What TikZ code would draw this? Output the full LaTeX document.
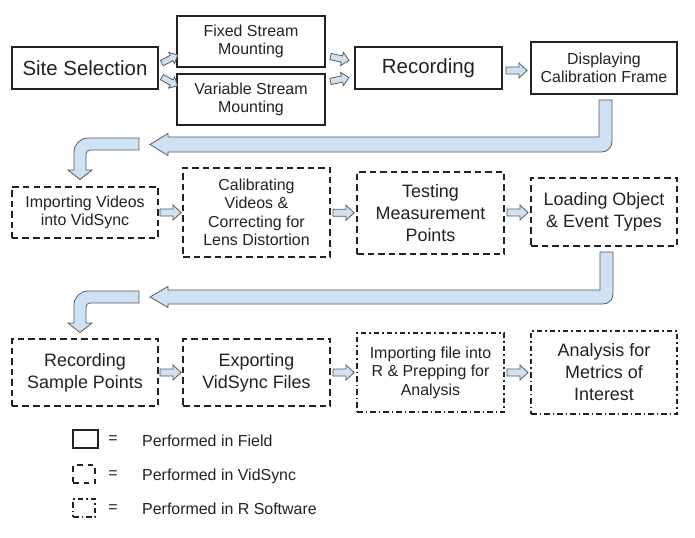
\documentclass[tikz,border=0pt]{standalone}
\usepackage{fontspec}
\setmainfont{Liberation Sans}
\usetikzlibrary{calc}
\definecolor{arrowfill}{HTML}{CFE2F3}
\definecolor{ink}{HTML}{222222}
\definecolor{arrowline}{HTML}{5A5A5A}
\tikzset{
  pics/barrow/.style={code={\draw[barw] (-10.5,-3.5) -- (2.5,-3.5) -- (2.5,-7.5) -- (10.5,0) -- (2.5,7.5) -- (2.5,3.5) -- (-10.5,3.5) -- cycle;}}
}
\begin{document}
\begin{tikzpicture}[x=1bp,y=-1bp,
  box/.style={draw=ink, line width=1.5bp, inner sep=0pt, align=center, text=ink},
  field/.style={box},
  vid/.style={box, dash pattern=on 6.5bp off 4bp},
  rsoft/.style={box, line width=1.3bp, dash pattern=on 5.5bp off 3bp on 1.5bp off 3bp},
  fbig/.style={font=\fontsize{20.5}{24}\selectfont},
  fmed/.style={font=\fontsize{18}{22}\selectfont},
  fsmall/.style={font=\fontsize{16}{18.5}\selectfont},
  flegend/.style={font=\fontsize{16}{18}\selectfont, text=ink},
  barw/.style={fill=arrowfill, draw=arrowline, line width=0.8bp, line join=miter},
]
\useasboundingbox (0,0) rectangle (695,538);
\fill[white] (0,0) rectangle (695,538);

% Row 1 (field)
\node[field, fbig, minimum width=146bp, minimum height=42bp] (site) at (85,68) {Site Selection};
\node[field, fsmall, minimum width=148bp, minimum height=51bp] (fixed) at (251,41.5) {Fixed Stream\\Mounting};
\node[field, fsmall, minimum width=148bp, minimum height=51bp] (variable) at (251,99.5) {Variable Stream\\Mounting};
\node[field, fbig, minimum width=147bp, minimum height=42bp] (rec) at (428.5,68) {Recording};
\node[field, fsmall, minimum width=146bp, minimum height=52bp] (disp) at (604,68) {Displaying\\Calibration Frame};

% Row 2 (VidSync)
\node[vid, fsmall, minimum width=146bp, minimum height=51bp] (import) at (85,212.5) {Importing Videos\\into VidSync};
\node[vid, fsmall, minimum width=147bp, minimum height=89bp] (calib) at (256.5,212.5) {Calibrating\\Videos \&\\Correcting for\\Lens Distortion};
\node[vid, fmed, minimum width=147bp, minimum height=82bp] (test) at (430.5,213) {Testing\\Measurement\\Points};
\node[vid, fmed, minimum width=146bp, minimum height=68bp] (load) at (604,212) {Loading Object\\\& Event Types};

% Row 3
\node[vid, fmed, minimum width=146bp, minimum height=67bp] (rsp) at (85,372.5) {Recording\\Sample Points};
\node[vid, fmed, minimum width=147bp, minimum height=67bp] (export) at (256.5,372.5) {Exporting\\VidSync Files};
\node[rsoft, fsmall, minimum width=147bp, minimum height=79bp] (importR) at (430.5,372.5) {Importing file into\\R \& Prepping for\\Analysis};
\node[rsoft, fmed, minimum width=146bp, minimum height=83bp] (analysis) at (604,372.5) {Analysis for\\Metrics of\\Interest};

% small block arrows
\pic[rotate=27, scale=.85] at ($(site.east)+(11,-9)$) {barrow};
\pic[rotate=-29, scale=.85] at ($(site.east)+(11,13.5)$) {barrow};
\pic[rotate=-12, scale=.9] at ($(fixed.east)+(14,17)$) {barrow};
\pic[rotate=12, scale=.9] at ($(variable.east)+(14,-20)$) {barrow};
\pic at ($(rec.east)!0.5!(disp.west)+(0,2.5)$) {barrow};
\pic at ($(import.east)!0.5!(calib.west)$) {barrow};
\pic at ($(calib.east)!0.5!(test.west)$) {barrow};
\pic at ($(test.east)!0.5!(load.west)$) {barrow};
\pic at ($(rsp.east)!0.5!(export.west)$) {barrow};
\pic at ($(export.east)!0.5!(importR.west)$) {barrow};
\pic at ($(importR.east)!0.5!(analysis.west)$) {barrow};

% big return arrows
\draw[barw] (599,100) -- (612,100) -- (612,142) .. controls (612,147.5) and (606.5,152) .. (602,152)
  -- (168,152) -- (168,155.5) -- (150,144.5) -- (168,133.5) -- (168,137) -- (599,137) -- cycle;
\draw[barw] (600,252) -- (613,252) -- (613,294) .. controls (613,299.5) and (608.5,304) .. (603,304)
  -- (168,304) -- (168,307.5) -- (150,297) -- (168,286.5) -- (168,290) -- (600,290) -- cycle;

% curved down arrows
\draw[barw] (139,138) -- (139,150) -- (90,150) .. controls (87.8,150) and (86,151.8) .. (86,154)
  -- (86,170) -- (92,170) -- (80,179.5) -- (68,170) -- (74,170) -- (74,152)
  .. controls (74,144.3) and (80.3,138) .. (88,138) -- cycle;
\draw[barw] (139,291) -- (139,303) -- (90,303) .. controls (87.8,303) and (86,304.8) .. (86,307)
  -- (86,323) -- (92,323) -- (80,332.5) -- (68,323) -- (74,323) -- (74,305)
  .. controls (74,297.3) and (80.3,291) .. (88,291) -- cycle;

% legend
\node[field, minimum width=25bp, minimum height=18bp] (lf) at (85.5,439) {};
\node[vid, line width=1.3bp, dash pattern=on 5.5bp off 5bp, minimum width=22bp, minimum height=18bp] (lv) at (84,474) {};
\node[rsoft, minimum width=22bp, minimum height=18bp] (lr) at (84,508) {};
\node[flegend] (e1) at (113,440) {=};
\node[flegend] (e2) at (113,475) {=};
\node[flegend] (e3) at (113,509) {=};
\node[flegend, anchor=west, inner sep=0pt] (t1) at (142,441) {Performed in Field};
\node[flegend, anchor=west, inner sep=0pt] (t2) at (142,476) {Performed in VidSync};
\node[flegend, anchor=west, inner sep=0pt] (t3) at (142,509) {Performed in R Software};
\end{tikzpicture}
\end{document}
